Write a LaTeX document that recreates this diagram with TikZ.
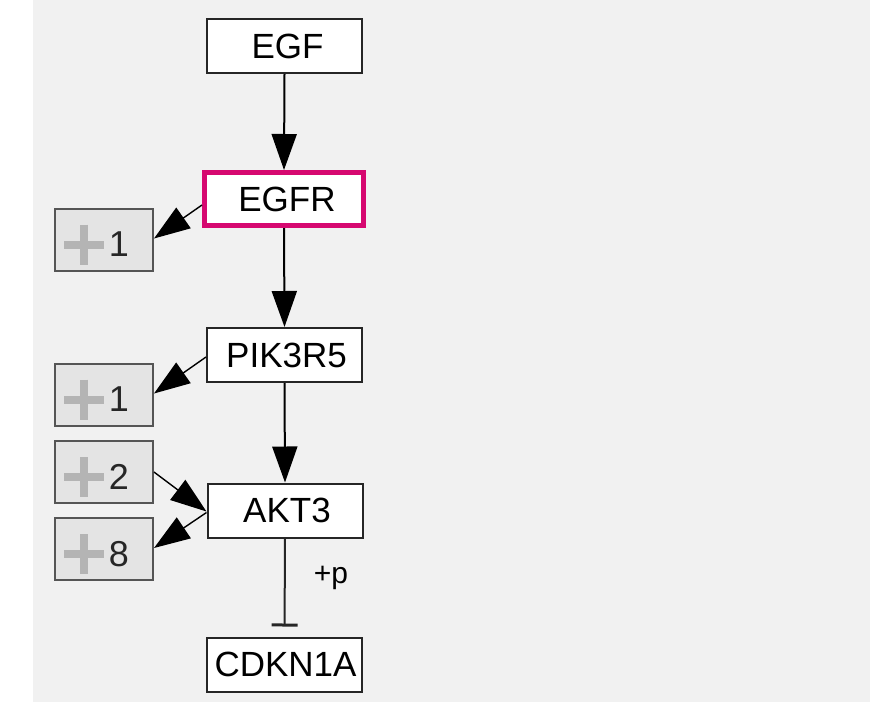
\documentclass[tikz,border=0pt]{standalone}
\usepackage{fontspec}
\setmainfont{Liberation Sans}
\usetikzlibrary{arrows.meta}
\definecolor{bggray}{RGB}{241,241,241}
\definecolor{hilite}{RGB}{214,8,112}
\definecolor{grpfill}{RGB}{228,228,228}
\definecolor{grpline}{RGB}{85,85,85}
\definecolor{plusgray}{RGB}{180,180,180}
\tikzset{
  gene/.style={draw=black!85, line width=2pt, fill=white, rectangle,
    minimum width=155pt, minimum height=54pt, inner sep=0pt,
    font=\fontsize{35}{40}\selectfont},
  geneHi/.style={gene, draw=hilite, line width=5pt, minimum width=159pt, minimum height=53pt},
  grp/.style={draw=grpline, line width=2pt, fill=grpfill, rectangle,
    minimum width=98pt, minimum height=62pt, inner sep=0pt},
  grpnum/.style={inner sep=0pt, font=\fontsize{36}{40}\selectfont, text=black!85},
  plusbar/.style={draw=plusgray, line width=8pt},
  act/.style={draw=black, line width=2pt, -{Triangle[length=36pt,width=25pt]}},
  sideact/.style={draw=black, line width=1.4pt, -{Triangle[length=36pt,width=25pt]}},
  inh/.style={draw=black!85, line width=2pt, -{Bar[width=26pt,line width=3pt]}},
  lbl/.style={inner sep=0pt, font=\fontsize{30}{34}\selectfont}
}
\newcommand{\grpbox}[4]{% name, x, y, number
  \node[grp] (#1) at (#2,#3) {};
  \draw[plusbar] ([xshift=-40pt,yshift=-5pt]#1.center) -- ([xshift=0pt,yshift=-5pt]#1.center);
  \draw[plusbar] ([xshift=-20pt,yshift=15pt]#1.center) -- ([xshift=-20pt,yshift=-25pt]#1.center);
  \node[grpnum] (#1n) at ([xshift=15pt,yshift=-5pt]#1.center) {#4};
}
\begin{document}
\begin{tikzpicture}[x=1pt,y=-1pt]
\useasboundingbox (0,0) rectangle (870,702);
\fill[bggray] (33,0) rectangle (870,702);

\node[gene] (egf) at (284.5,46) {\hspace*{6pt}EGF};
\node[geneHi] (egfr) at (284,199) {\hspace*{6pt}EGFR};
\node[gene] (pik) at (284.5,355) {\hspace*{4pt}PIK3R5};
\node[gene] (akt) at (285,510.5) {\hspace*{4pt}AKT3};
\node[gene] (cdk) at (284.5,664.5) {\hspace*{2pt}CDKN1A};

\grpbox{g1}{104}{239.5}{1}
\grpbox{g2}{104}{394.5}{1}
\grpbox{g3}{104}{472}{2}
\grpbox{g4}{104}{549}{8}

\draw[act] (egf.south) -- (egfr.north);
\draw[act] (egfr.south) -- (pik.north);
\draw[act] (pik.south) -- (akt.north);
\draw[inh, shorten >=10pt] (akt.south) -- (cdk.north);
\node[lbl] (plab) at (331,578) {+p};

\draw[sideact] ([yshift=-6pt]egfr.west) -- ([yshift=1pt]g1.east);
\draw[sideact] ([yshift=-2pt]pik.west) -- ([yshift=1pt]g2.east);
\draw[sideact] (g3.east) -- ([yshift=-1pt]akt.west);
\draw[sideact] ([yshift=-2pt]akt.west) -- ([yshift=1pt]g4.east);
\end{tikzpicture}
\end{document}
